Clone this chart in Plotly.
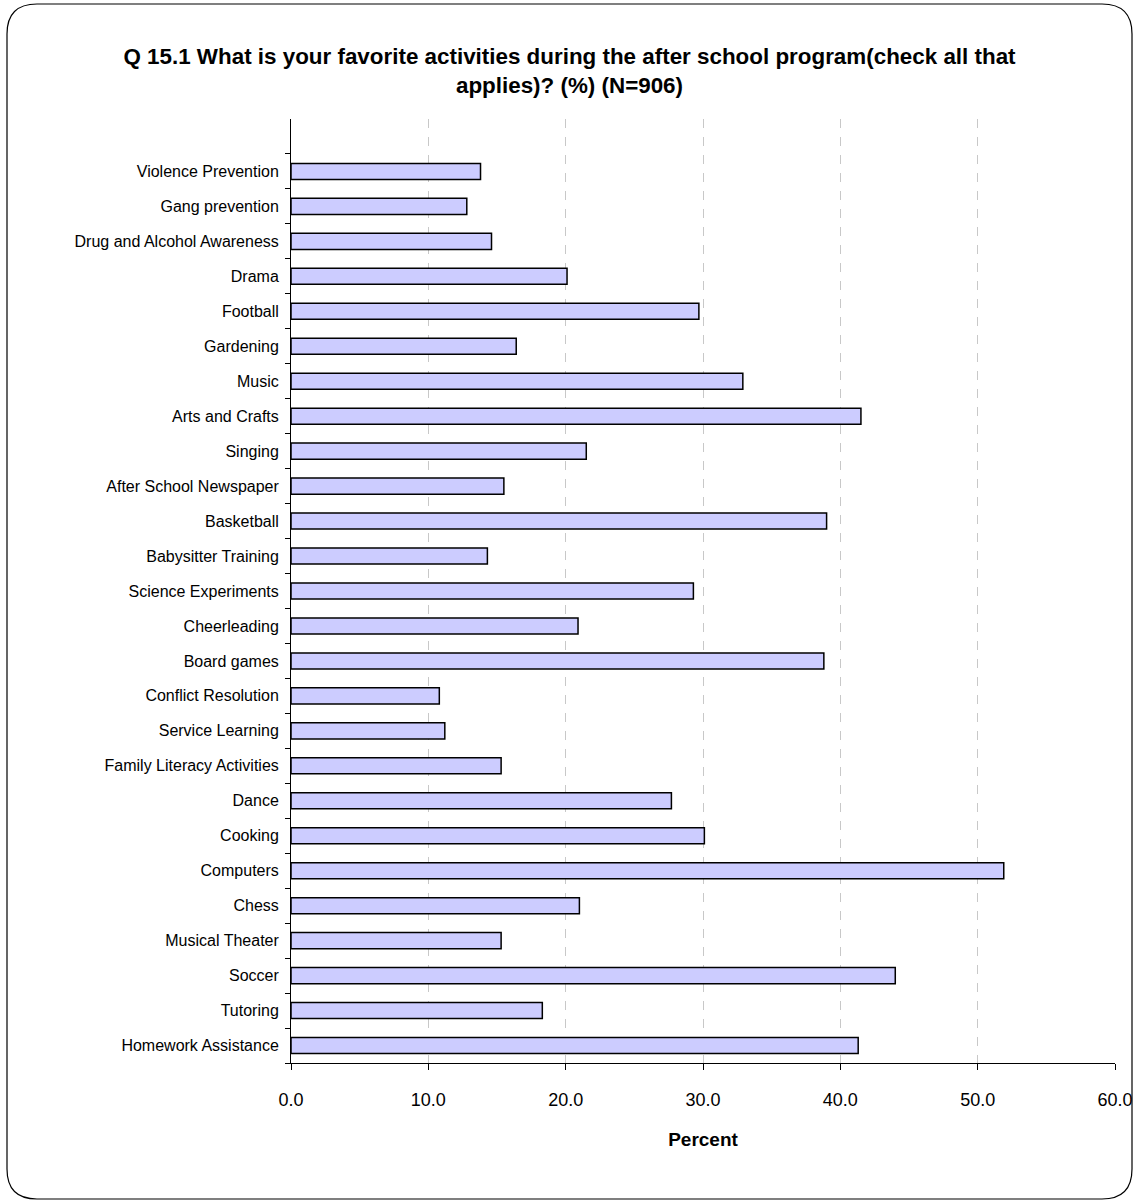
import plotly.graph_objects as go

categories = [
    "Violence Prevention", "Gang prevention", "Drug and Alcohol Awareness", "Drama",
    "Football", "Gardening", "Music", "Arts and Crafts", "Singing",
    "After School Newspaper", "Basketball", "Babysitter Training",
    "Science Experiments", "Cheerleading", "Board games", "Conflict Resolution",
    "Service Learning", "Family Literacy Activities", "Dance", "Cooking",
    "Computers", "Chess", "Musical Theater", "Soccer", "Tutoring",
    "Homework Assistance",
]
values = [
    13.8, 12.8, 14.6, 20.1, 29.7, 16.4, 32.9, 41.5, 21.5, 15.5, 39.0, 14.3,
    29.3, 20.9, 38.8, 10.8, 11.2, 15.3, 27.7, 30.1, 51.9, 21.0, 15.3, 44.0,
    18.3, 41.3,
]
x_ticks = [0, 10, 20, 30, 40, 50, 60]

# plot from bottom to top
cats_plot = categories[::-1]
vals_plot = values[::-1]

W, H = 1139, 1204
L, R, T, B = 291, 1115, 119, 1063

fig = go.Figure(go.Bar(
    x=vals_plot, y=cats_plot, orientation="h",
    marker=dict(color="#CCCCFF", line=dict(color="black", width=1.5)),
    hoverinfo="x+y",
))

def px(x):
    return (x - L) / (R - L)

def py(y):
    return (B - y) / (B - T)

# rounded border
x0, x1, y0, y1, r = 7, 1132, 4, 1199, 30
path = (
    f"M {px(x0 + r)} {py(y0)} L {px(x1 - r)} {py(y0)} "
    f"Q {px(x1)} {py(y0)} {px(x1)} {py(y0 + r)} "
    f"L {px(x1)} {py(y1 - r)} Q {px(x1)} {py(y1)} {px(x1 - r)} {py(y1)} "
    f"L {px(x0 + r)} {py(y1)} Q {px(x0)} {py(y1)} {px(x0)} {py(y1 - r)} "
    f"L {px(x0)} {py(y0 + r)} Q {px(x0)} {py(y0)} {px(x0 + r)} {py(y0)} Z"
)

fig.update_layout(
    width=W, height=H,
    margin=dict(l=L, r=W - R, t=T, b=H - B, pad=0, autoexpand=False),
    paper_bgcolor="white", plot_bgcolor="white",
    bargap=0.54,
    showlegend=False,
    font=dict(family="Liberation Sans, Arial, sans-serif", color="black"),
    title=dict(
        text="<b>Q 15.1 What is your favorite activities during the after school program(check all that<br>applies)? (%) (N=906)</b>",
        x=0.5, xref="container", xanchor="center",
        y=1 - 64 / H, yref="container", yanchor="middle",
        font=dict(size=22.4, family="Liberation Sans, Arial, sans-serif", color="black"),
    ),
    shapes=[dict(type="path", xref="paper", yref="paper", path=path,
                 line=dict(color="black", width=1.2), layer="above")],
)

fig.update_xaxes(
    range=[0, 60], tickvals=x_ticks, tickformat=".1f",
    showline=True, linecolor="black", linewidth=1,
    ticks="outside", ticklen=6, tickcolor="black",
    showgrid=True, gridcolor="#C8C8C8", griddash="dash", gridwidth=1,
    zeroline=False, automargin=False,
    tickfont=dict(size=18),
    ticklabelstandoff=14,
    title=dict(text="<b>Percent</b>", font=dict(size=19), standoff=24),
)
fig.update_yaxes(
    type="category", categoryorder="array", categoryarray=cats_plot,
    range=[-0.5, len(cats_plot) + 0.5],
    showline=True, linecolor="black", linewidth=1,
    ticks="outside", ticklen=5, tickcolor="black", tickson="boundaries",
    showgrid=False, zeroline=False, automargin=False,
    tickfont=dict(size=16),
    ticklabelstandoff=8,
)

fig.write_html(
    "out.html",
    config={"displayModeBar": False},
    post_script="document.body.style.margin='0';document.body.style.padding='0';",
)
